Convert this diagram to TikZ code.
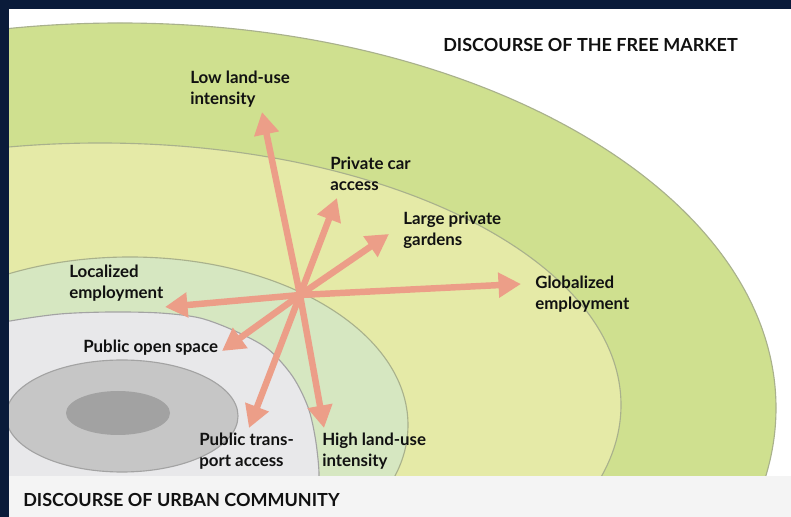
\documentclass[tikz,border=0pt]{standalone}
\usepackage{fontspec}
\setmainfont{Lato}
\usetikzlibrary{arrows.meta}
\definecolor{navy}{HTML}{0A1B3A}
\definecolor{ringA}{HTML}{CFE08F}
\definecolor{ringB}{HTML}{E5EAA7}
\definecolor{ringC}{HTML}{D6E7C1}
\definecolor{ringD}{HTML}{E8E8EA}
\definecolor{ringE}{HTML}{C6C6C6}
\definecolor{ringF}{HTML}{A2A2A2}
\definecolor{ringline}{HTML}{A9B18C}
\definecolor{greyline}{HTML}{A3A3A3}
\definecolor{salmon}{HTML}{EC9E88}
\definecolor{strip}{HTML}{F4F4F4}
\definecolor{ink}{HTML}{111111}
\begin{document}
\begin{tikzpicture}[x=0.025cm, y=-0.025cm,
  ring/.style={draw=ringline, line width=0.8pt},
  push/.style={draw=salmon, line width=4.6pt, -{Triangle[length=16pt,width=17pt]}},
  lbl/.style={anchor=north west, inner sep=0pt, align=left, text=ink,
    font=\bfseries\fontsize{12}{14.9}\selectfont},
  head/.style={anchor=north west, inner sep=0pt, text=ink,
    font=\bfseries\fontsize{12.8}{15}\selectfont}]
\clip (0,0) rectangle (791,517);
\fill[white] (0,0) rectangle (791,517);

% rings
\draw[ring, fill=ringA] (120,408) ellipse [x radius=656, y radius=385];
\draw[ring, fill=ringB] (100,405) ellipse [x radius=521, y radius=262];
\draw[ring, fill=ringC] (130,425) ellipse [x radius=278, y radius=168];
\draw[ring, draw=greyline, fill=ringD] plot[smooth cycle] coordinates {(-30,330) (10,321) (60,314) (110,312) (160,313) (200,318) (235,331) (268,349) (293,377) (309,410) (317,450) (318,490) (300,540) (100,560) (-30,540)};
\draw[ring, draw=greyline, fill=ringE] (122,416) ellipse [x radius=116, y radius=56];
\fill[ringF] (118,413) ellipse [x radius=52, y radius=22];

\fill[strip] (0,476) rectangle (791,517);
\fill[navy] (0,0) rectangle (791,9);
\fill[navy] (0,0) rectangle (9,517);

\coordinate (hub) at (300,295);
\coordinate (lowtip) at (262,112);
\coordinate (cartip) at (337,198);
\coordinate (gardentip) at (389,234);
\coordinate (globtip) at (521,284);
\coordinate (loctip) at (165,307);
\coordinate (opentip) at (222,351);
\coordinate (transtip) at (249,428);
\coordinate (hightip) at (324,428);

\draw[push] (hub) to (lowtip);
\draw[push] (hub) to (cartip);
\draw[push] (hub) to (gardentip);
\draw[push] (hub) to (globtip);
\draw[push] (hub) to (loctip);
\draw[push] (hub) to (opentip);
\draw[push] (hub) to (transtip);
\draw[push] (hub) to (hightip);

\node (lowuse) at (190,71) [lbl] {Low land-use\\intensity};
\node (car) at (330,157) [lbl] {Private car\\access};
\node (gardens) at (403,212) [lbl] {Large private\\gardens};
\node (globemp) at (535,276) [lbl] {Globalized\\employment};
\node (locemp) at (69,265) [lbl] {Localized\\employment};
\node (openspace) at (83,340) [lbl] {Public open space};
\node (transport) at (199,433) [lbl] {Public trans-\\port access};
\node (highuse) at (322,433) [lbl] {High land-use\\intensity};

\node (market) at (443,38) [head] {DISCOURSE OF THE FREE MARKET};
\node (community) at (23,493) [head] {DISCOURSE OF URBAN COMMUNITY};
\end{tikzpicture}
\end{document}
